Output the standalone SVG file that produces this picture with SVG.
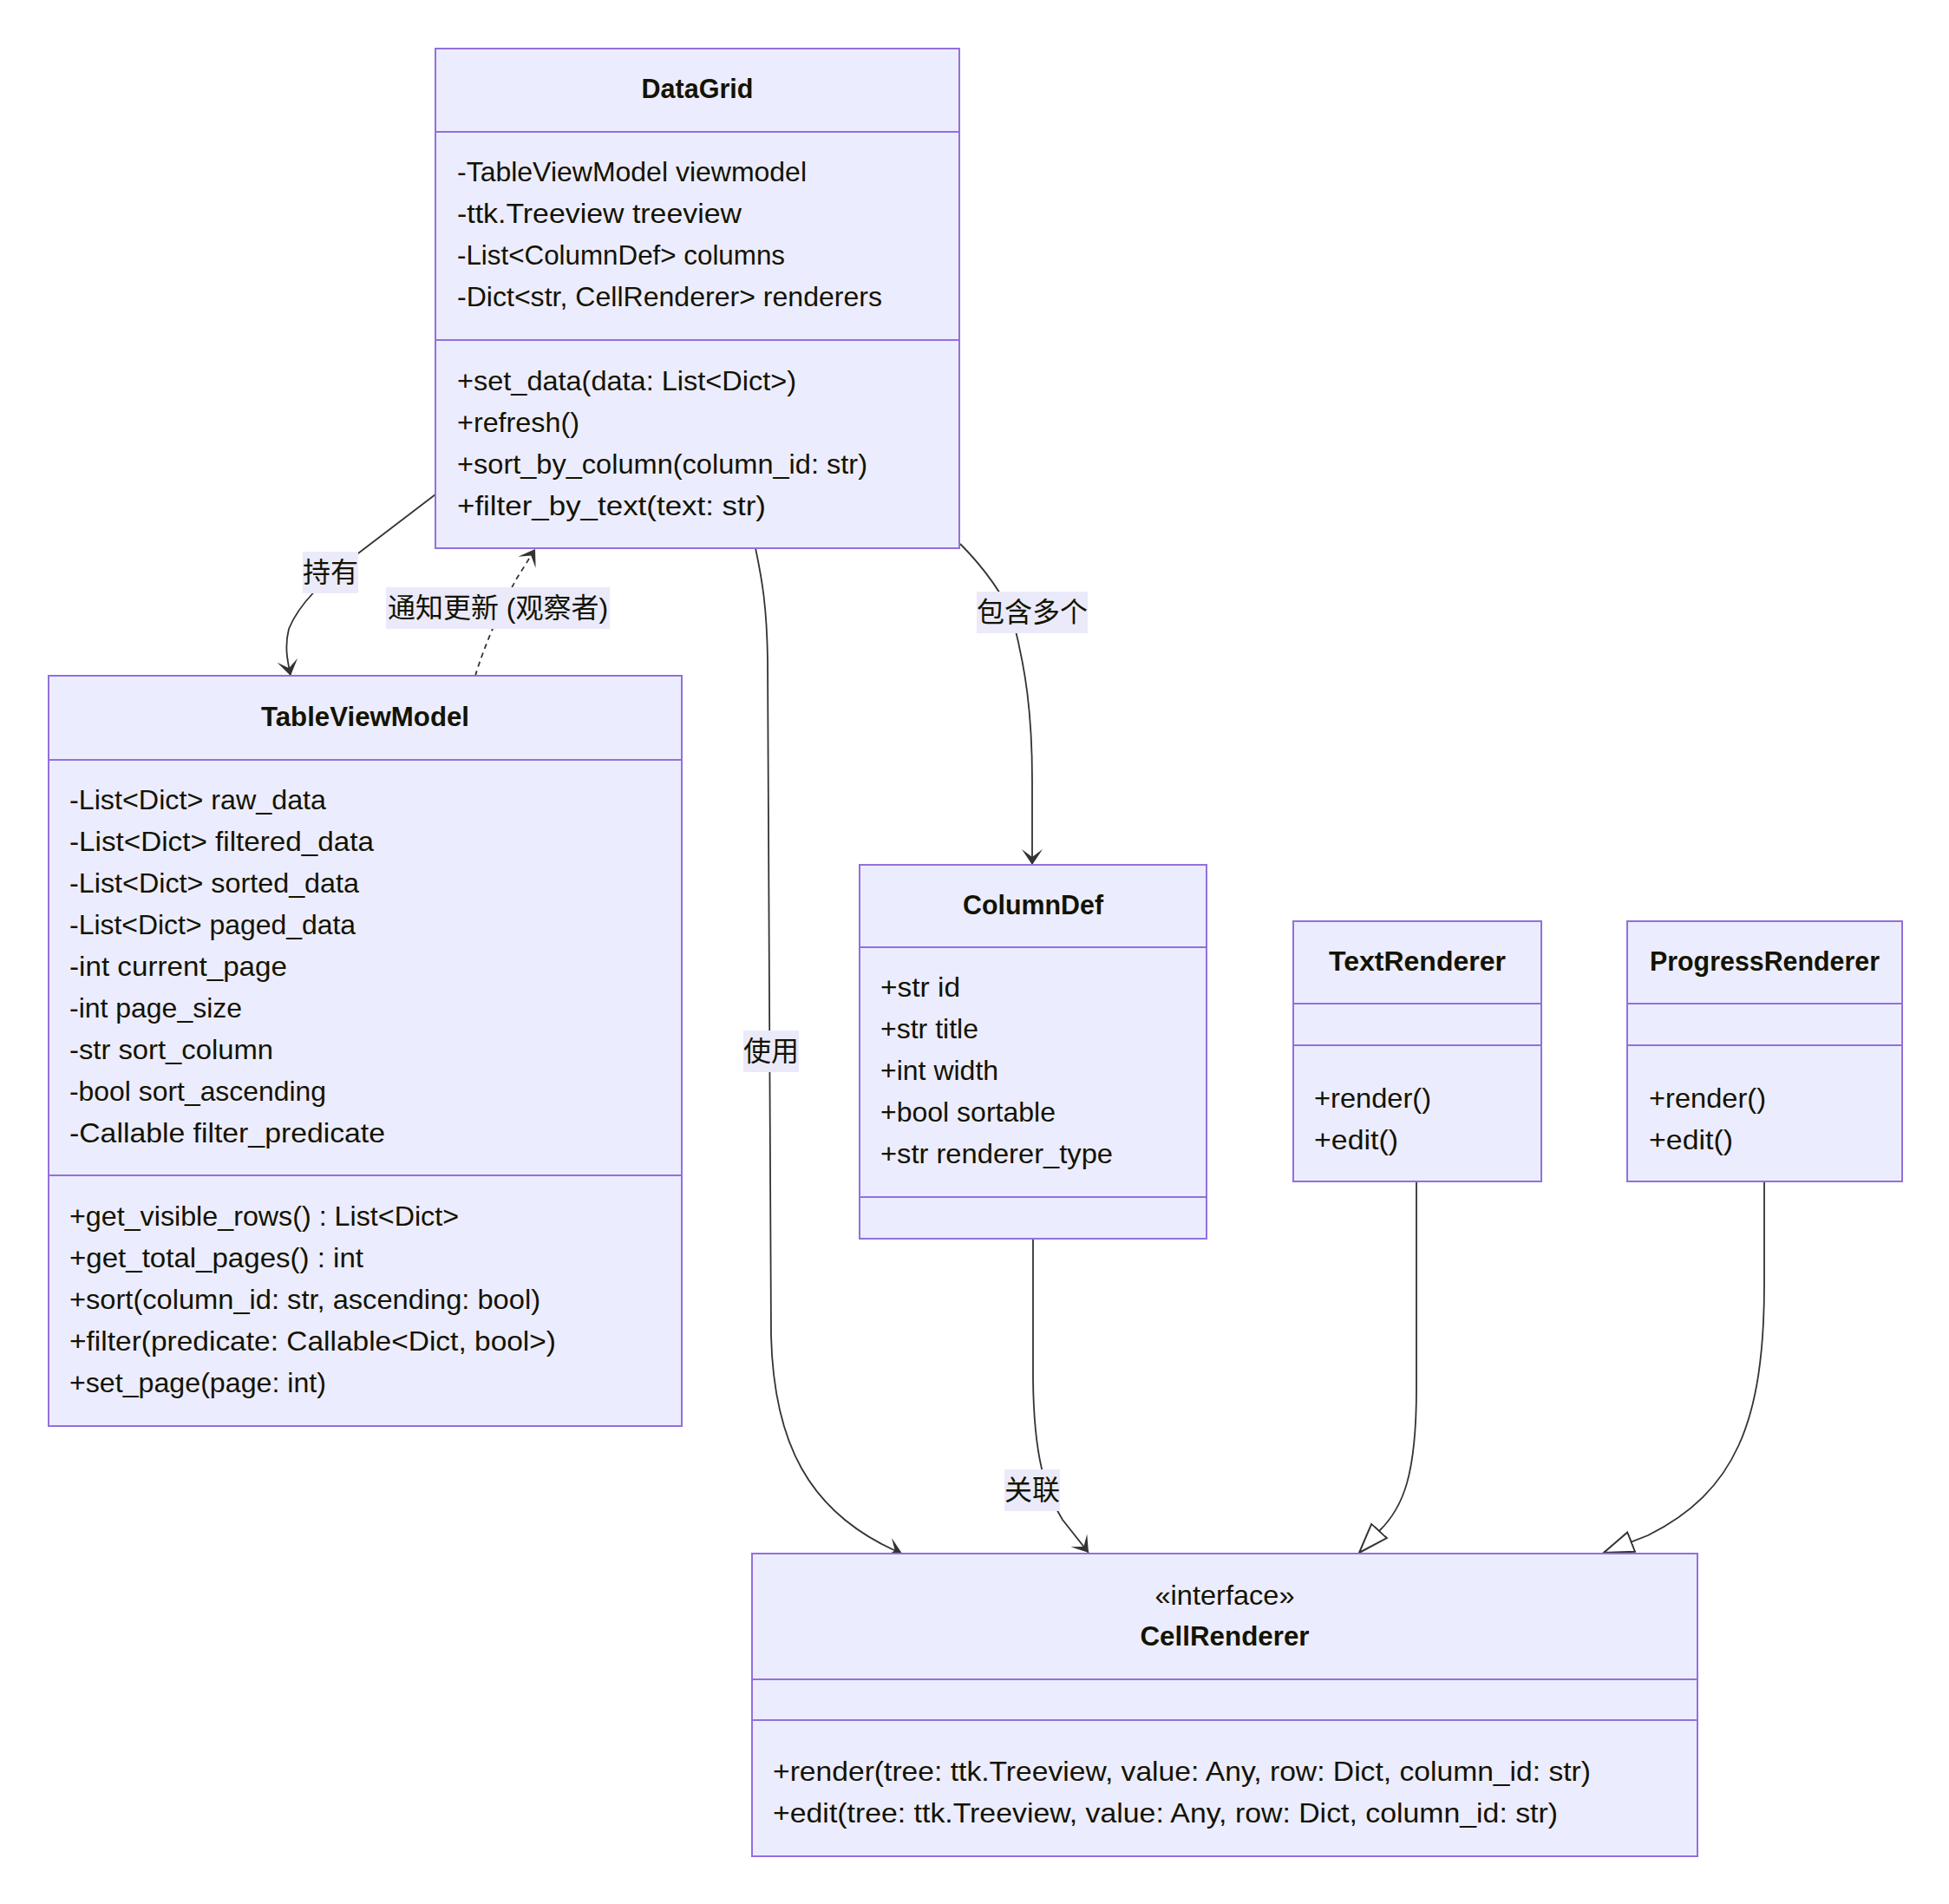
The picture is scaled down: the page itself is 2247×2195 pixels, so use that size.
<svg xmlns="http://www.w3.org/2000/svg" width="2247" height="2195" viewBox="0 0 2247 2195">
<style>
.box{fill:#ECECFF;stroke:#9370DB;stroke-width:2}
.div{stroke:#9370DB;stroke-width:2}
.t{font-family:"Liberation Sans","Noto Sans CJK SC",sans-serif;font-size:32px;fill:#131300}
.b{font-weight:bold;text-anchor:middle}
.c{text-anchor:middle}
.e{fill:none;stroke:#333;stroke-width:1.8}
.dash{stroke-dasharray:6,5}
.lb{fill:#EAEAFA}
.lt{text-anchor:middle;dominant-baseline:central}
</style>
<defs>
<marker id="arr" markerUnits="userSpaceOnUse" markerWidth="20" markerHeight="28" viewBox="0 0 20 28" refX="18" refY="13" orient="auto"><path d="M18,13 L0,1 L9,13 L0,25 Z" fill="#333"/></marker>
<marker id="tri" markerUnits="userSpaceOnUse" markerWidth="38" markerHeight="30" viewBox="0 0 38 30" refX="35" refY="15" orient="auto"><path d="M35,15 L1,3 L1,27 Z" fill="#fff" stroke="#333" stroke-width="2"/></marker>
</defs>
<rect width="2247" height="2195" fill="#fff"/>
<g id="connectors">
<path class="e" d="M502,570 L405,644 C375,668 345,695 333,725 C328,745 331,760 335,779" marker-end="url(#arr)"/>
<path class="e dash" d="M548,779 C558,745 578,700 595,668 L617,633" marker-end="url(#arr)"/>
<path class="e" d="M871,632 C879,670 884,700 885,760 L889,1540 C892,1660 930,1745 1040,1791" marker-end="url(#arr)"/>
<path class="e" d="M1107,627 C1135,655 1160,690 1168,715 C1182,770 1190,820 1190,900 L1190,997" marker-end="url(#arr)"/>
<path class="e" d="M1191,1428 L1191,1590 C1192,1680 1205,1720 1225,1752 L1255,1790" marker-end="url(#arr)"/>
<path class="e" d="M1633,1362 L1633,1600 C1633,1700 1618,1738 1590,1765 L1567,1790" marker-end="url(#tri)"/>
<path class="e" d="M2034,1362 L2034,1480 C2034,1640 2000,1720 1900,1770 L1849,1790" marker-end="url(#tri)"/>
<rect class="lb" x="349" y="636" width="64" height="48"/>
<text class="t lt" x="381" y="660">持有</text>
<rect class="lb" x="445" y="677" width="258" height="48"/>
<text class="t lt" x="574" y="701">通知更新 (观察者)</text>
<rect class="lb" x="857" y="1188" width="64" height="48"/>
<text class="t lt" x="889" y="1212">使用</text>
<rect class="lb" x="1126" y="682" width="128" height="48"/>
<text class="t lt" x="1190" y="706">包含多个</text>
<rect class="lb" x="1158" y="1694" width="64" height="48"/>
<text class="t lt" x="1190" y="1718">关联</text>
</g>
<g id="DataGrid">
<rect class="box" x="502" y="56" width="604" height="576"/>
<line class="div" x1="502" y1="152" x2="1106" y2="152"/>
<line class="div" x1="502" y1="392" x2="1106" y2="392"/>
<text class="t b" x="804" y="113" textLength="129" lengthAdjust="spacingAndGlyphs">DataGrid</text>
<text class="t" x="527" y="209" textLength="403" lengthAdjust="spacingAndGlyphs">-TableViewModel viewmodel</text>
<text class="t" x="527" y="257" textLength="328" lengthAdjust="spacingAndGlyphs">-ttk.Treeview treeview</text>
<text class="t" x="527" y="305" textLength="378" lengthAdjust="spacingAndGlyphs">-List&lt;ColumnDef&gt; columns</text>
<text class="t" x="527" y="353" textLength="490" lengthAdjust="spacingAndGlyphs">-Dict&lt;str, CellRenderer&gt; renderers</text>
<text class="t" x="527" y="450" textLength="391" lengthAdjust="spacingAndGlyphs">+set_data(data: List&lt;Dict&gt;)</text>
<text class="t" x="527" y="498" textLength="141" lengthAdjust="spacingAndGlyphs">+refresh()</text>
<text class="t" x="527" y="546" textLength="473" lengthAdjust="spacingAndGlyphs">+sort_by_column(column_id: str)</text>
<text class="t" x="527" y="594" textLength="356" lengthAdjust="spacingAndGlyphs">+filter_by_text(text: str)</text>
</g>
<g id="TableViewModel">
<rect class="box" x="56" y="779" width="730" height="865"/>
<line class="div" x1="56" y1="876" x2="786" y2="876"/>
<line class="div" x1="56" y1="1355" x2="786" y2="1355"/>
<text class="t b" x="421" y="837" textLength="240" lengthAdjust="spacingAndGlyphs">TableViewModel</text>
<text class="t" x="80" y="933" textLength="296" lengthAdjust="spacingAndGlyphs">-List&lt;Dict&gt; raw_data</text>
<text class="t" x="80" y="981" textLength="351" lengthAdjust="spacingAndGlyphs">-List&lt;Dict&gt; filtered_data</text>
<text class="t" x="80" y="1029" textLength="334" lengthAdjust="spacingAndGlyphs">-List&lt;Dict&gt; sorted_data</text>
<text class="t" x="80" y="1077" textLength="330" lengthAdjust="spacingAndGlyphs">-List&lt;Dict&gt; paged_data</text>
<text class="t" x="80" y="1125" textLength="251" lengthAdjust="spacingAndGlyphs">-int current_page</text>
<text class="t" x="80" y="1173" textLength="199" lengthAdjust="spacingAndGlyphs">-int page_size</text>
<text class="t" x="80" y="1221" textLength="235" lengthAdjust="spacingAndGlyphs">-str sort_column</text>
<text class="t" x="80" y="1269" textLength="296" lengthAdjust="spacingAndGlyphs">-bool sort_ascending</text>
<text class="t" x="80" y="1317" textLength="364" lengthAdjust="spacingAndGlyphs">-Callable filter_predicate</text>
<text class="t" x="80" y="1413" textLength="449" lengthAdjust="spacingAndGlyphs">+get_visible_rows() : List&lt;Dict&gt;</text>
<text class="t" x="80" y="1461" textLength="339" lengthAdjust="spacingAndGlyphs">+get_total_pages() : int</text>
<text class="t" x="80" y="1509" textLength="543" lengthAdjust="spacingAndGlyphs">+sort(column_id: str, ascending: bool)</text>
<text class="t" x="80" y="1557" textLength="561" lengthAdjust="spacingAndGlyphs">+filter(predicate: Callable&lt;Dict, bool&gt;)</text>
<text class="t" x="80" y="1605" textLength="296" lengthAdjust="spacingAndGlyphs">+set_page(page: int)</text>
</g>
<g id="ColumnDef">
<rect class="box" x="991" y="997" width="400" height="431"/>
<line class="div" x1="991" y1="1092" x2="1391" y2="1092"/>
<line class="div" x1="991" y1="1380" x2="1391" y2="1380"/>
<text class="t b" x="1191" y="1054" textLength="162" lengthAdjust="spacingAndGlyphs">ColumnDef</text>
<text class="t" x="1015" y="1149" textLength="92" lengthAdjust="spacingAndGlyphs">+str id</text>
<text class="t" x="1015" y="1197">+str title</text>
<text class="t" x="1015" y="1245">+int width</text>
<text class="t" x="1015" y="1293">+bool sortable</text>
<text class="t" x="1015" y="1341" textLength="268" lengthAdjust="spacingAndGlyphs">+str renderer_type</text>
</g>
<g id="TextRenderer">
<rect class="box" x="1491" y="1062" width="286" height="300"/>
<line class="div" x1="1491" y1="1157" x2="1777" y2="1157"/>
<line class="div" x1="1491" y1="1205" x2="1777" y2="1205"/>
<text class="t b" x="1634" y="1119" textLength="204" lengthAdjust="spacingAndGlyphs">TextRenderer</text>
<text class="t" x="1515" y="1277" textLength="135" lengthAdjust="spacingAndGlyphs">+render()</text>
<text class="t" x="1515" y="1325" textLength="97" lengthAdjust="spacingAndGlyphs">+edit()</text>
</g>
<g id="ProgressRenderer">
<rect class="box" x="1876" y="1062" width="317" height="300"/>
<line class="div" x1="1876" y1="1157" x2="2193" y2="1157"/>
<line class="div" x1="1876" y1="1205" x2="2193" y2="1205"/>
<text class="t b" x="2034.5" y="1119" textLength="265" lengthAdjust="spacingAndGlyphs">ProgressRenderer</text>
<text class="t" x="1901" y="1277" textLength="135" lengthAdjust="spacingAndGlyphs">+render()</text>
<text class="t" x="1901" y="1325" textLength="97" lengthAdjust="spacingAndGlyphs">+edit()</text>
</g>
<g id="CellRenderer">
<rect class="box" x="867" y="1791" width="1090" height="349"/>
<line class="div" x1="867" y1="1936" x2="1957" y2="1936"/>
<line class="div" x1="867" y1="1983" x2="1957" y2="1983"/>
<text class="t c" x="1412" y="1850" textLength="161" lengthAdjust="spacingAndGlyphs">«interface»</text>
<text class="t b" x="1412" y="1897" textLength="195" lengthAdjust="spacingAndGlyphs">CellRenderer</text>
<text class="t" x="891" y="2053" textLength="943" lengthAdjust="spacingAndGlyphs">+render(tree: ttk.Treeview, value: Any, row: Dict, column_id: str)</text>
<text class="t" x="891" y="2101" textLength="905" lengthAdjust="spacingAndGlyphs">+edit(tree: ttk.Treeview, value: Any, row: Dict, column_id: str)</text>
</g>
</svg>
